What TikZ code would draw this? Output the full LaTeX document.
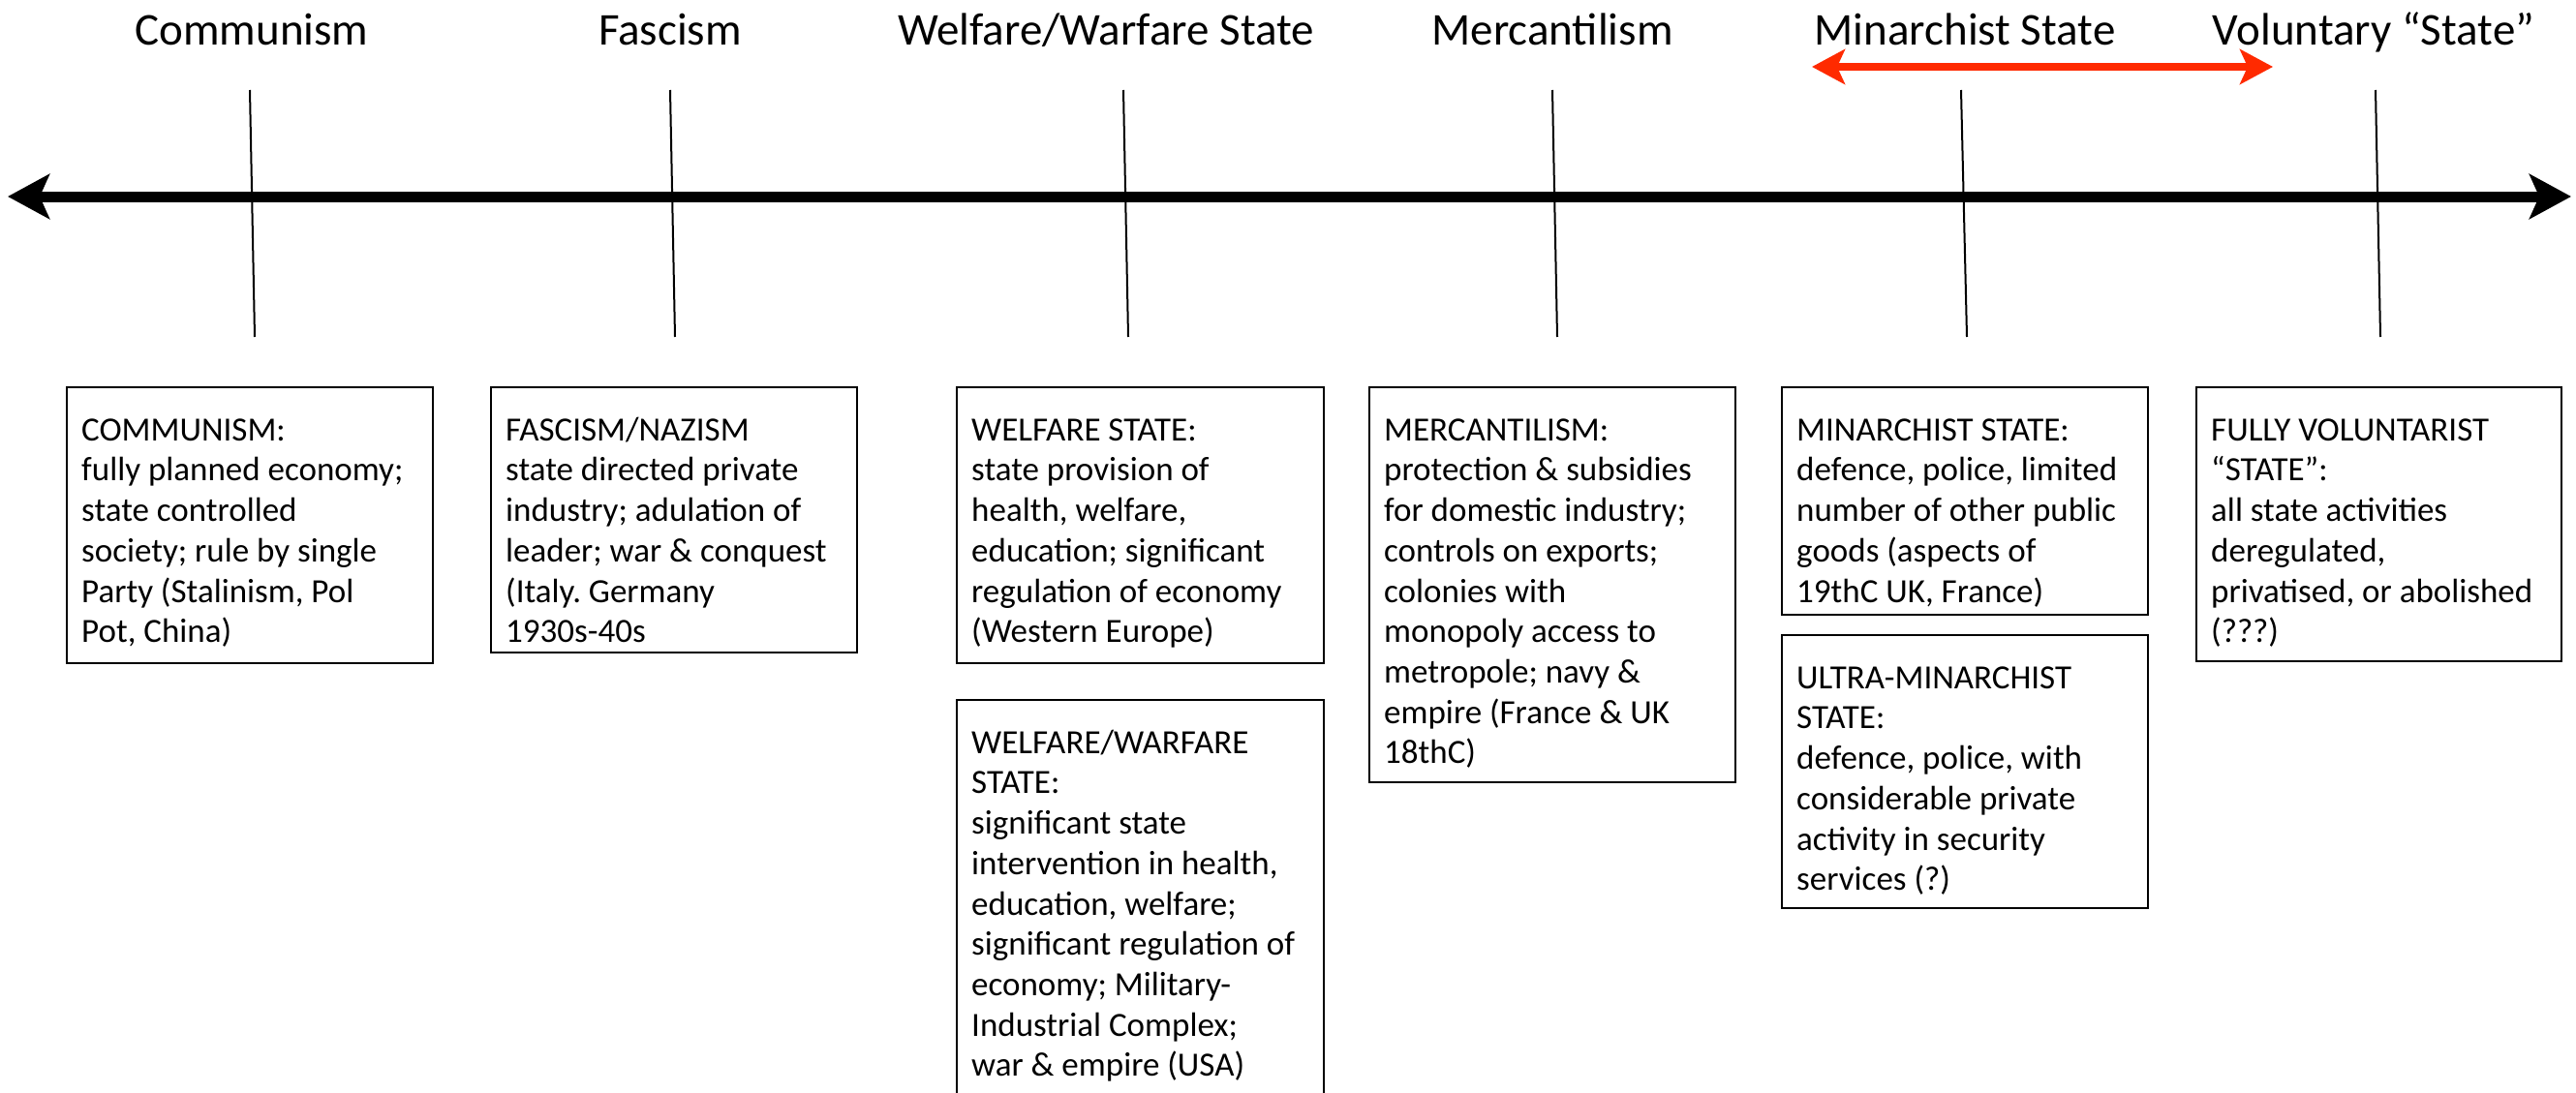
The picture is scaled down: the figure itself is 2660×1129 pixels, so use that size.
\documentclass[tikz,border=0pt]{standalone}
\usepackage{fontspec}
\setmainfont{Carlito}
\usetikzlibrary{arrows.meta,calc}
\definecolor{redarrow}{RGB}{255,42,0}
\frenchspacing
\tikzset{
  title/.style={anchor=base, font=\fontsize{47}{56}\selectfont, inner sep=0},
  tickline/.style={line width=2pt, black},
  infobox/.style={draw, line width=2pt, anchor=north west, inner sep=0},
  boxtext/.style={anchor=north west, inner sep=0, align=left,
     font=\fontsize{35}{41.7}\selectfont},
}
\newcommand{\infobox}[6]{%
  \node[infobox, minimum width=#3pt, minimum height=#4pt] (#1) at (#2) {};
  \node[boxtext] (#5) at ($(#1.north west)+(16,26)$) {\rule{0pt}{30pt}#6};
}
\begin{document}
\begin{tikzpicture}[x=1pt,y=-1pt]
\path[use as bounding box] (0,0) rectangle (2660,1129);
\clip (0,0) rectangle (2660,1129);

% titles
\node[title] (tComm) at (260,47) {Communism};
\node[title] (tFasc) at (692,47) {Fascism};
\node[title] (tWelf) at (1142,47) {Welfare/Warfare State};
\node[title] (tMerc) at (1603,47) {Mercantilism};
\node[title] (tMina) at (2029,47) {Minarchist State};
\node[title] (tVolu) at (2451,47) {Voluntary “State”};

% main axis
\coordinate (axL) at (8,203);
\coordinate (axR) at (2655,203);
\draw[line width=11pt, {Stealth[length=43pt,width=46pt,inset=10pt]}-{Stealth[length=43pt,width=46pt,inset=10pt]}] (axL) -- (axR);

% red arrow
\coordinate (rL) at (1871,69);
\coordinate (rR) at (2347,69);
\draw[redarrow, line width=8pt, {Stealth[length=34pt,width=36pt,inset=8pt]}-{Stealth[length=34pt,width=36pt,inset=8pt]}] (rL) -- (rR);

% ticks
\foreach \n/\xa/\xb in {c/258/263, f/692/697, w/1160/1165, m/1603/1608, n/2025/2031, v/2453/2458}{
  \coordinate (tt\n) at (\xa,93);
  \coordinate (tb\n) at (\xb,348);
  \draw[tickline] (tt\n) -- (tb\n);
}

% boxes
\infobox{bComm}{68,399}{378}{285}{xComm}{COMMUNISM:\\fully planned economy;\\state controlled\\society; rule by single\\Party (Stalinism, Pol\\Pot, China)}
\infobox{bFasc}{506,399}{378}{274}{xFasc}{FASCISM/NAZISM\\state directed private\\industry; adulation of\\leader; war \& conquest\\(Italy. Germany\\1930s-40s}
\infobox{bWelf}{987,399}{379}{285}{xWelf}{WELFARE STATE:\\state provision of\\health, welfare,\\education; significant\\regulation of economy\\(Western Europe)}
\infobox{bWarf}{987,722}{379}{440}{xWarf}{WELFARE/WARFARE\\STATE:\\significant state\\intervention in health,\\education, welfare;\\significant regulation of\\economy; Military-\\Industrial Complex;\\war \& empire (USA)}
\infobox{bMerc}{1413,399}{378}{408}{xMerc}{MERCANTILISM:\\protection \& subsidies\\for domestic industry;\\controls on exports;\\colonies with\\monopoly access to\\metropole; navy \&\\empire (France \& UK\\18thC)}
\infobox{bMina}{1839,399}{378}{235}{xMina}{MINARCHIST STATE:\\defence, police, limited\\number of other public\\goods (aspects of\\19thC UK, France)}
\infobox{bUltr}{1839,655}{378}{282}{xUltr}{ULTRA-MINARCHIST\\STATE:\\defence, police, with\\considerable private\\activity in security\\services (?)}
\infobox{bVolu}{2267,399}{377}{283}{xVolu}{FULLY VOLUNTARIST\\“STATE”:\\all state activities\\deregulated,\\privatised, or abolished\\(???)}
\end{tikzpicture}
\end{document}
